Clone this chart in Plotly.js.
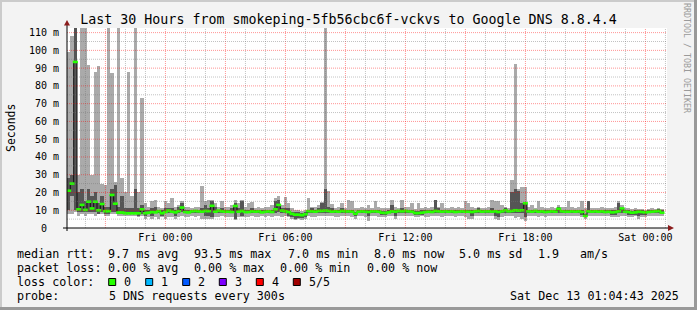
<!DOCTYPE html>
<html><head><meta charset="utf-8">
<script src="https://cdn.plot.ly/plotly-3.0.1.min.js"></script>
<style>html,body{margin:0;padding:0;background:#f3f3f3;overflow:hidden}#chart{width:697px;height:310px}</style>
</head><body><div id="chart"></div>
<script>
// ---- data: 10-minute steps starting Thu 2025-12-11 19:04:43 ----
const median = [
 21,25,93.5,10.5,13,10.2,
 14.8,11,14.8,10,13.5,9.5,
 9.5,18.6,13.7,8.7,8.7,8.3,
 8.3,8.3,8.3,8.3,10.5,8.3,
 8.6,9.0,8.8,9.5,8.3,9.0,
 9.8,9.2,8.8,9.5,11.5,9.0,
 8.8,9.4,9.6,9.4,9.2,9.6,
 9.5,12.5,9.2,9.8,9.4,9.2,
 9.2,9.0,12.4,9.2,9.6,9.0,
 9.0,9.4,9.2,9.4,8.8,9.2,
 9.4,9.0,10.5,13.0,9.8,9.4,
 9.0,8.0,7.5,7.5,7.2,7.8,
 9.5,9.4,9.2,9.6,9.6,9.8,
 9.6,9.2,9.4,9.2,9.6,9.4,
 9.4,9.2,8.0,9.2,9.4,9.2,
 9.0,9.4,9.4,9.2,8.6,8.4,
 8.8,9.4,9.2,9.6,9.4,9.6,
 9.4,9.2,8.4,8.4,8.6,9.0,
 9.2,9.0,9.6,9.4,9.2,9.4,
 9.2,9.4,9.0,9.2,9.4,9.2,
 9.2,9.0,9.4,9.6,9.2,9.4,
 9.4,9.2,9.4,9.0,9.4,10.0,
 9.4,9.6,10.0,9.8,10.0,13.9,
 9.4,9.2,9.6,9.2,9.4,9.0,
 9.2,9.4,9.2,10.8,9.4,9.2,
 9.2,9.4,9.2,9.4,9.0,6.8,
 9.4,9.2,9.4,9.2,9.4,9.0,
 9.2,8.8,9.0,9.4,11.0,9.2,
 9.0,8.6,8.8,9.2,9.0,8.8,
 9.0,9.2,9.4,9.6,8.6];
const smokeHigh = [
 99,108,115,30,115,115,
 92,30,88,91,25,24,
 115,87,26,115,28,20,
 88,18,115,20,73,14,
 12,15,16,12,11,15,
 14,17,12,13,15,12,
 12,11,12,12,23.5,15,
 16,16,14,12,15,12,
 12,13,15.5,14,15.5,12,
 14,14.5,11,12,11,12,
 12,13,17,18,13,17.5,
 14,11,10,10,9.5,10,
 17,12,12,13,14.5,115,
 21,13.5,11,12,14,11,
 16,15,11,11,12,11,
 13,11,15,12,11,11,
 11,16,12,11,16,12,
 12,14,10.5,14,11,12,
 11,12,16,12,14,11,
 11,12,11,12,11,15,
 14,12,11,12,11,11,
 12,16,15,15,13,12,
 11,27,92.3,22,23,23,
 12,13,11,15,12,11,
 11,12,11,13,12,12,
 15,12,11,12,15,11,
 15,11,11,11,12,11,
 11,11,12,15,13,11,
 11,10.5,11,10.5,10.5,10,
 10.5,11,10.5,11,10.5];
const smokeLow = [
 8,8,9,7,8,7,
 8,8,7,8,8,7,
 7,8,8,7,7,7,
 7,7,7,6,7,5,
 6,5,6,5,6,5,
 6,6,5,6,7,6,
 6,7,6,7,5,5,
 5,5,6,6,7,6,
 6,6,4.5,6,6,6,
 6,7,6,6,7,6,
 7,6,7,7,6,7,
 6,5,4.5,5,4.5,5,
 7,6,6,7,7,7,
 7,7,6,6,7,7,
 7,6,5,7,7,6,
 3.8,7,7,6,6,6,
 7,7,4.8,7,7,7,
 7,7,6,6,7,6,
 6,7,7,7,6,7,
 7,7,6,7,7,6,
 5,5,7,7,7,7,
 7,7,5,4.5,6,7,
 7,7,5.4,6,5,3.7,
 7,7,7,6,7,6,
 7,7,7,7,7,7,
 7,7,7,7,6,5,
 7,7,7,7,7,7,
 7,6,6,6,7,7,
 6,6,7,5,6,6,
 7,7,7,7,7];
const darkHigh = [
 28,30,115,20,22,15,
 22,18,20,14,18,12,
 12,22,24,12,18,11,
 11,11,22,11,13,10,
 9.9,11,12,9.9,9.9,11,
 11,11,9.9,12,14,9.9,
 9.9,9.9,9.9,9.9,11,13,
 11,15,12,9.9,11,9.9,
 9.9,11,14,11,15,9.9,
 9.9,11,9.9,9.9,9.9,9.9,
 9.9,9.9,15,15.5,11,11,
 11,9,9,9,8.5,9,
 9.9,11,9.9,11,14,22,
 12,11,9.9,9.9,11,9.9,
 9.9,9.9,9,9.9,9.9,9.9,
 9.9,9.9,9.9,9.9,9.5,9.5,
 9.9,13,9.9,9.9,11,9.9,
 9.9,9.9,9.5,9.5,9.9,9.9,
 9.9,9.9,15.8,11,9.9,9.9,
 9.9,9.9,9.9,9.9,9.9,9.9,
 9.9,9.9,9.9,11,9.9,9.9,
 9.9,11,9.9,9.9,9.9,11,
 9.9,20,22,21,14,14,
 9.9,9.9,9.9,9.9,9.9,9.9,
 9.9,9.9,9.9,12,9.9,9.9,
 9.9,9.9,9.9,9.9,9.9,8,
 15,9.9,9.9,9.9,9.9,9.9,
 9.9,9.9,9.9,14,11.5,9.9,
 9.9,9.5,9.9,9.9,9.9,9.5,
 9.9,9.9,9.9,10.5,9.9];
const darkLow = [
 10,18,10,9,9,9,
 9,9,9,8,9,8,
 8,9,9,8,8,8,
 8,8,8,7,8,7,
 8.6,7,8.6,8.6,7,8.6,
 8.6,8.6,7,8.6,9,8.6,
 8.6,8.6,8.6,8.6,8.6,7,
 7,6,8.6,8.6,8.6,8.6,
 8.6,8.6,5,8.6,7,8.6,
 8.6,8.6,8.6,8.6,8.6,8.6,
 8.6,8.6,8.6,9,8.6,8.6,
 7,6,5,5.5,5.5,6,
 8.6,8.6,8.6,8.6,8.6,8.6,
 8.6,8.6,8.6,8.6,8.6,8.6,
 8.6,8.6,6.5,8.6,8.6,8.6,
 7,8.6,8.6,8.6,7.5,7.5,
 8.6,8.6,7,8.6,8.6,8.6,
 8.6,8.6,7.5,7.5,7.5,8.6,
 8.6,8.6,8.6,8.6,8.6,8.6,
 8.6,8.6,8.6,8.6,8.6,8.6,
 8.6,7,8.6,8.6,8.6,8.6,
 8.6,8.6,7,6,8.6,8.6,
 8.6,8.6,8.6,8.6,8.6,6,
 8.6,8.6,8.6,8.6,8.6,8.6,
 8.6,8.6,8.6,8.6,8.6,8.6,
 8.6,8.6,8.6,8.6,7.5,6,
 8.6,8.6,8.6,8.6,8.6,8.6,
 8.6,7.5,7.5,8.6,8.6,8.6,
 7.5,7.5,7.5,7,7.5,7.5,
 8.6,8.6,8.6,8.6,8.6];

const xTickTimes = ['2025-12-11 21:00','2025-12-12 00:00','2025-12-12 03:00','2025-12-12 06:00','2025-12-12 09:00',
  '2025-12-12 12:00','2025-12-12 15:00','2025-12-12 18:00','2025-12-12 21:00','2025-12-13 00:00'];
const xTickLabels = ['','Fri 00:00','','Fri 06:00','','Fri 12:00','','Fri 18:00','','Sat 00:00'];
const yTickVals = [0,10,20,30,40,50,60,70,80,90,100,110];
const yTickLabels = ['0\u00a0\u00a0','10 m','20 m','30 m','40 m','50 m','60 m','70 m','80 m','90 m','100 m','110 m'];

const titleText = 'Last 30 Hours from smokeping-5fb56cbc6f-vckvs to Google DNS 8.8.4.4';
const rttTexts = ['median rtt:','9.7 ms avg','93.5 ms max','7.0 ms min','8.0 ms now','5.0 ms sd','1.9','am/s'];
const lossTexts = ['packet loss:','0.00 % avg','0.00 % max','0.00 % min','0.00 % now'];
const lossColorTitle = 'loss color:';
const lossLabels = ['0','1','2','3','4','5/5'];
const lossColors = ['#26ff00','#00b8ff','#0059ff','#7e00ff','#ff0000','#a00000'];
const probeTexts = ['probe:','5 DNS requests every 300s'];
const stampText = 'Sat Dec 13 01:04:43 2025';

// ---- layout helpers (pixel -> paper coords) ----
const L = 67, T = 28, W = 600, H = 200;
const PX = x => (x - L) / W;
const PY = y => (T + H - y) / H;

const t0 = Date.UTC(2025, 11, 11, 19, 4, 43);
const step = 600000;
const fmt = ms => new Date(ms).toISOString().replace('T', ' ').slice(0, 19);
const xc = median.map((_, i) => fmt(t0 + (i + 0.5) * step));
const xl = median.map((_, i) => fmt(t0 + i * step));

const traces = [
  {type:'bar', x:xc, base:smokeLow, y:smokeHigh.map((v,i)=>v-smokeLow[i]), width:step,
   marker:{color:'#aaaaaa', line:{width:0}}, hoverinfo:'skip'},
  {type:'bar', x:xc, base:darkLow, y:darkHigh.map((v,i)=>v-darkLow[i]), width:step,
   marker:{color:'#555555', line:{width:0}}, hoverinfo:'skip'},
  {type:'scatter', mode:'lines', x:xl, y:median, line:{shape:'hv', color:'#111111', width:1}, hoverinfo:'skip'},
  {type:'scatter', mode:'markers', x:xc, y:median, hoverinfo:'skip',
   marker:{symbol:'line-ew-open', size:3.6, color:lossColors[0], line:{color:lossColors[0], width:2.6}}}
];

const mono = 'DejaVu Sans Mono, monospace';
const shapes = [];
// grid on top of the graph
const RED = 'rgba(255,0,0,0.42)', GRAY = 'rgba(120,120,120,0.45)';
for (let h = 20; h <= 49; h++) {
  const t = fmt(Date.UTC(2025, 11, 11, h));
  shapes.push({type:'line', xref:'x', yref:'paper', x0:t, x1:t, y0:0, y1:1, layer:'above',
    line:{color: h % 3 === 0 ? RED : GRAY, width:1, dash:'1px,1px'}});
}
for (let v = 5; v <= 110; v += 5) {
  shapes.push({type:'line', xref:'paper', yref:'y', x0:0, x1:1, y0:v, y1:v, layer:'above',
    line:{color: v % 10 === 0 ? RED : GRAY, width:1, dash:'1px,1px'}});
}
// axes with arrows
shapes.push({type:'line', xref:'paper', yref:'paper', x0:PX(63), x1:PX(669), y0:PY(228), y1:PY(228), layer:'above', line:{color:'#000', width:1}});
shapes.push({type:'line', xref:'paper', yref:'paper', x0:PX(67), x1:PX(67), y0:PY(231), y1:PY(24), layer:'above', line:{color:'#000', width:1}});
shapes.push({type:'path', xref:'paper', yref:'paper', layer:'above',
  path:`M ${PX(64)} ${PY(25.5)} L ${PX(70)} ${PY(25.5)} L ${PX(67)} ${PY(20)} Z`, fillcolor:'#8b1c1c', line:{width:0}});
shapes.push({type:'path', xref:'paper', yref:'paper', layer:'above',
  path:`M ${PX(668)} ${PY(225)} L ${PX(668)} ${PY(231)} L ${PX(674)} ${PY(228)} Z`, fillcolor:'#8b1c1c', line:{width:0}});
// 3D frame
shapes.push({type:'rect', xref:'paper', yref:'paper', x0:PX(0), x1:PX(697), y0:PY(0), y1:PY(2), fillcolor:'#cbcbcb', line:{width:0}, layer:'above'});
shapes.push({type:'rect', xref:'paper', yref:'paper', x0:PX(0), x1:PX(2), y0:PY(0), y1:PY(310), fillcolor:'#cbcbcb', line:{width:0}, layer:'above'});
shapes.push({type:'rect', xref:'paper', yref:'paper', x0:PX(0), x1:PX(697), y0:PY(307), y1:PY(310), fillcolor:'#999999', line:{width:0}, layer:'above'});
shapes.push({type:'rect', xref:'paper', yref:'paper', x0:PX(694), x1:PX(697), y0:PY(0), y1:PY(310), fillcolor:'#999999', line:{width:0}, layer:'above'});

const annotations = [];
function txt(x, y, s, opts) {
  annotations.push(Object.assign({xref:'paper', yref:'paper', x:PX(x), y:PY(y), text:s, showarrow:false,
    xanchor:'left', yanchor:'middle', borderpad:0, font:{family:mono, size:11.7, color:'#000'}}, opts || {}));
}
const rttX = [16,107.3,193.3,287.3,372.7,458.3,536.7,579.3];
rttTexts.forEach((s,i)=>txt(rttX[i], 254, s));
const lossX = [16,107.3,193.3,279.3,365.7];
lossTexts.forEach((s,i)=>txt(lossX[i], 268, s));
txt(16, 282, lossColorTitle);
const boxX = [108.7,145.7,182.7,219.3,256.3,293.3];
lossLabels.forEach((s,i)=>{
  txt(boxX[i]+14.6, 282, s);
  shapes.push({type:'rect', xref:'paper', yref:'paper', x0:PX(boxX[i]), x1:PX(boxX[i]+7), y0:PY(278.5), y1:PY(285.5),
    fillcolor:lossColors[i], line:{color:'#000', width:1}, layer:'above'});
});
txt(16, 296, probeTexts[0]);
txt(108.3, 296, probeTexts[1]);
txt(680, 296, stampText, {xanchor:'right'});
txt(11, 128, 'Seconds', {xanchor:'center', textangle:-90, font:{family:mono, size:11.5, color:'#000'}});
txt(687, 58, 'RRDTOOL / TOBI OETIKER', {xanchor:'center', textangle:90, font:{family:mono, size:8.3, color:'#9a9a9a'}});

const layout = {
  width:697, height:310,
  margin:{l:L, r:697-L-W, t:T, b:310-T-H, pad:0},
  paper_bgcolor:'#f3f3f3', plot_bgcolor:'#ffffff',
  showlegend:false, barmode:'overlay', bargap:0,
  title:{text:titleText, x:0.5, xref:'container', xanchor:'center', y:1-19/310, yref:'container', yanchor:'middle',
    font:{family:mono, size:13.3, color:'#000'}},
  xaxis:{type:'date', range:['2025-12-11 19:04:43','2025-12-13 01:04:43'], tickmode:'array',
    tickvals:xTickTimes, ticktext:xTickLabels, showgrid:false, zeroline:false, showline:false,
    ticks:'', ticklabelstandoff:2, tickfont:{family:mono, size:10, color:'#000'}, fixedrange:true},
  yaxis:{range:[0,112.6], tickmode:'array', tickvals:yTickVals, ticktext:yTickLabels, showgrid:false,
    zeroline:false, showline:false, ticks:'', ticklabelstandoff:7, tickfont:{family:mono, size:10, color:'#000'}, fixedrange:true},
  shapes, annotations
};
Plotly.newPlot('chart', traces, layout, {staticPlot:true, displayModeBar:false});
</script></body></html>
